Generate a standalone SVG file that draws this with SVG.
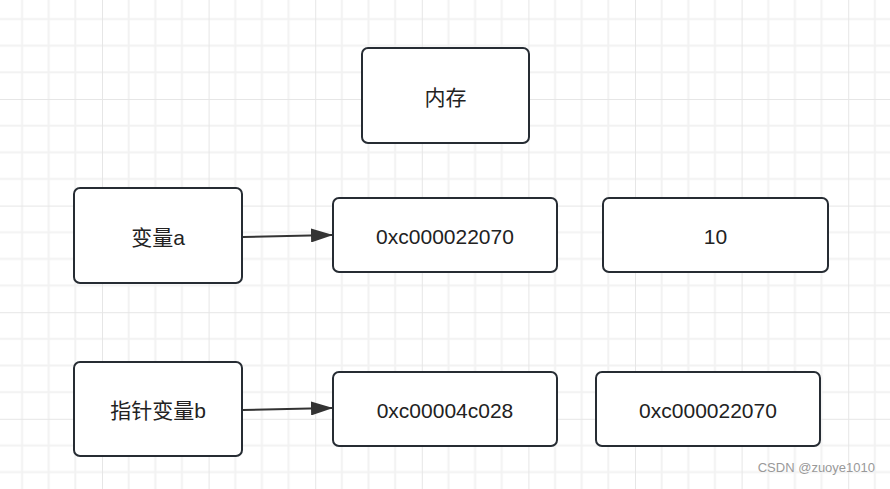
<svg xmlns="http://www.w3.org/2000/svg" width="890" height="489" viewBox="0 0 890 489">
<style>
.n{fill:#fff;stroke:#262c33;stroke-width:2}
.t{font-family:"Liberation Sans","Noto Sans CJK SC",sans-serif;font-size:21px;fill:#222;text-anchor:middle;dominant-baseline:central}
.c{stroke:#333;stroke-width:2;fill:none}
</style>
<defs>
<pattern id="g" x="-4.6" y="-7.6" width="106.6" height="106.6" patternUnits="userSpaceOnUse">
<path d="M26.65 0V106.6M53.3 0V106.6M79.95 0V106.6M0 26.65H106.6M0 53.3H106.6M0 79.95H106.6" stroke="#f2f2f2" stroke-width="2"/>
<path d="M0 0V106.6M0 0H106.6" stroke="#e6e6e6" stroke-width="2"/>
</pattern>
<marker id="a" markerWidth="10" markerHeight="10" refX="9" refY="5" orient="auto" markerUnits="userSpaceOnUse" viewBox="0 0 10 10"><path d="M0 0L10 5L0 10z" fill="#333"/></marker>
<marker id="ah" markerWidth="22" markerHeight="14" refX="21" refY="7" orient="auto" markerUnits="userSpaceOnUse"><path d="M0 0L22 7L0 14z" fill="#333"/></marker>
</defs>
<rect width="890" height="489" fill="#fff"/>
<rect width="890" height="489" fill="url(#g)"/>
<g id="connectors">
<path class="c" d="M243 237L332 235" marker-end="url(#ah)"/>
<path class="c" d="M243 410L332 408" marker-end="url(#ah)"/>
</g>
<g id="mem"><rect class="n" x="362" y="48" width="167" height="95" rx="6"/><text class="t" x="445.5" y="97">内存</text></g>
<g id="va"><rect class="n" x="74" y="188" width="168" height="95" rx="6"/><text class="t" x="158" y="237">变量a</text></g>
<g id="addrA"><rect class="n" x="333" y="198" width="224" height="74" rx="6"/><text class="t" x="445" y="236">0xc000022070</text></g>
<g id="val10"><rect class="n" x="603" y="198" width="225" height="74" rx="6"/><text class="t" x="715.5" y="236">10</text></g>
<g id="pb"><rect class="n" x="74" y="362" width="168" height="94" rx="6"/><text class="t" x="158" y="410">指针变量b</text></g>
<g id="addrB"><rect class="n" x="333" y="372" width="224" height="74" rx="6"/><text class="t" x="445" y="410">0xc00004c028</text></g>
<g id="valB"><rect class="n" x="596" y="372" width="224" height="74" rx="6"/><text class="t" x="708" y="410">0xc000022070</text></g>
<text x="875" y="472" font-family="Liberation Sans,sans-serif" font-size="13" fill="#999" text-anchor="end">CSDN @zuoye1010</text>
</svg>
